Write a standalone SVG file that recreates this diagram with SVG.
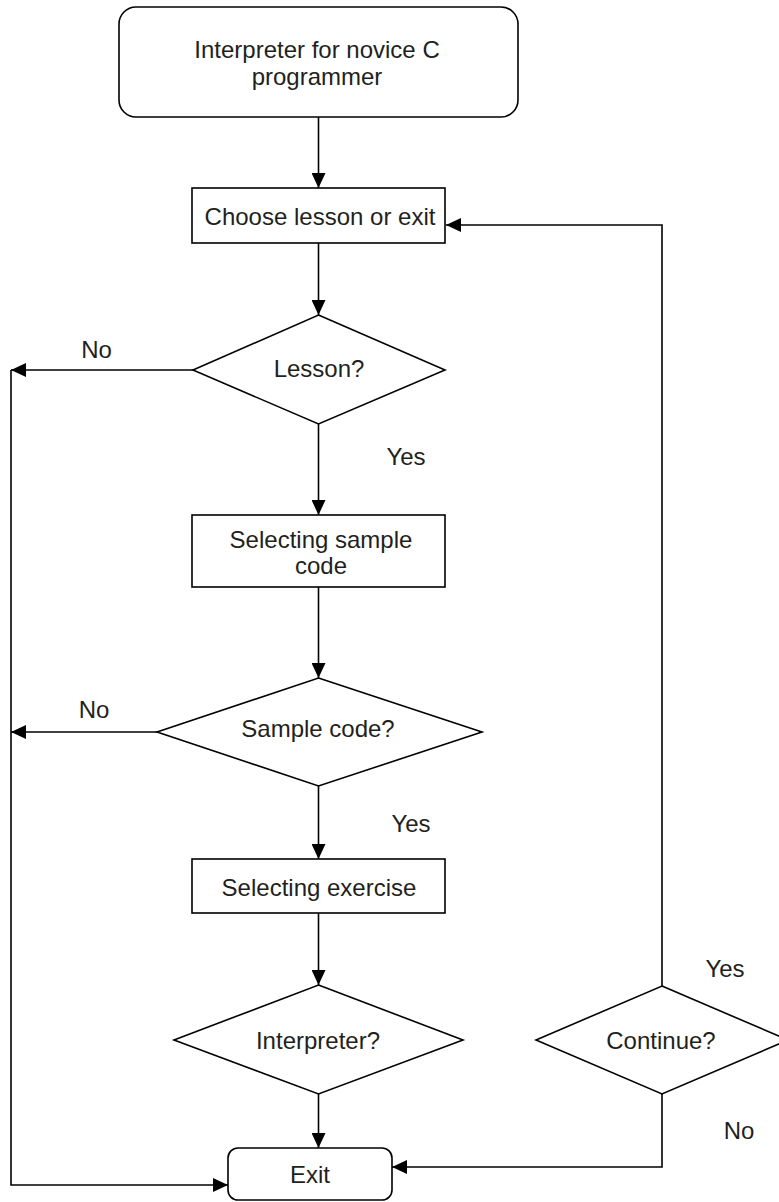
<svg xmlns="http://www.w3.org/2000/svg" width="779" height="1202" viewBox="0 0 779 1202">
<defs>
<marker id="arr" markerUnits="userSpaceOnUse" markerWidth="16" markerHeight="14" refX="15" refY="7" orient="auto">
<path d="M0,0 L15,7 L0,14 z" fill="#000"/>
</marker>
<style>
.shape{fill:#fff;stroke:#000;stroke-width:1.6}
.t{font-family:"Liberation Sans",Arial,sans-serif;font-size:24px;fill:#231f20;text-anchor:middle}
.c{fill:none;stroke:#000;stroke-width:1.6}
</style>
</defs>
<rect width="779" height="1202" fill="#fff"/>
<g id="connectors">
<line class="c" x1="318.5" y1="117" x2="318.5" y2="188" marker-end="url(#arr)"/>
<line class="c" x1="318.5" y1="243" x2="318.5" y2="315" marker-end="url(#arr)"/>
<line class="c" x1="193" y1="370" x2="11" y2="370" marker-end="url(#arr)"/>
<line class="c" x1="318.5" y1="424" x2="318.5" y2="515" marker-end="url(#arr)"/>
<line class="c" x1="318.5" y1="587" x2="318.5" y2="678" marker-end="url(#arr)"/>
<line class="c" x1="157" y1="732" x2="11" y2="732" marker-end="url(#arr)"/>
<line class="c" x1="318.5" y1="786" x2="318.5" y2="859" marker-end="url(#arr)"/>
<line class="c" x1="318.5" y1="913" x2="318.5" y2="985" marker-end="url(#arr)"/>
<line class="c" x1="318.5" y1="1094" x2="318.5" y2="1148" marker-end="url(#arr)"/>
<polyline class="c" points="11,370 11,1185 228,1185" marker-end="url(#arr)"/>
<polyline class="c" points="662,986 662,225 446,225" marker-end="url(#arr)"/>
<polyline class="c" points="662,1094 662,1167 392,1167" marker-end="url(#arr)"/>
<text class="t" x="96.5" y="358">No</text>
<text class="t" x="406" y="465">Yes</text>
<text class="t" x="94" y="718">No</text>
<text class="t" x="411" y="832">Yes</text>
<text class="t" x="725" y="977">Yes</text>
<text class="t" x="739" y="1139">No</text>
</g>
<g id="start">
<rect class="shape" x="119" y="7" width="399" height="110" rx="17"/>
<text class="t" x="317" y="58">Interpreter for novice C</text>
<text class="t" x="317" y="85">programmer</text>
</g>
<g id="choose">
<rect class="shape" x="192" y="188" width="253" height="55"/>
<text class="t" x="320" y="225">Choose lesson or exit</text>
</g>
<g id="lesson">
<polygon class="shape" points="318.5,315 445,370 318.5,424 193,370"/>
<text class="t" x="319" y="377">Lesson?</text>
</g>
<g id="sample-select">
<rect class="shape" x="192" y="515" width="253" height="72"/>
<text class="t" x="321" y="548">Selecting sample</text>
<text class="t" x="321" y="574">code</text>
</g>
<g id="sample-decision">
<polygon class="shape" points="318.5,678 482,732 318.5,786 157,732"/>
<text class="t" x="318" y="737">Sample code?</text>
</g>
<g id="exercise">
<rect class="shape" x="192" y="859" width="253" height="54"/>
<text class="t" x="319" y="896">Selecting exercise</text>
</g>
<g id="interpreter">
<polygon class="shape" points="318.5,985 463,1040 318.5,1094 174,1040"/>
<text class="t" x="318" y="1049">Interpreter?</text>
</g>
<g id="continue">
<polygon class="shape" points="662,986 788,1040 662,1094 536,1040"/>
<text class="t" x="661" y="1049">Continue?</text>
</g>
<g id="exit">
<rect class="shape" x="228" y="1148" width="164" height="52" rx="10"/>
<text class="t" x="310" y="1183">Exit</text>
</g>
</svg>
